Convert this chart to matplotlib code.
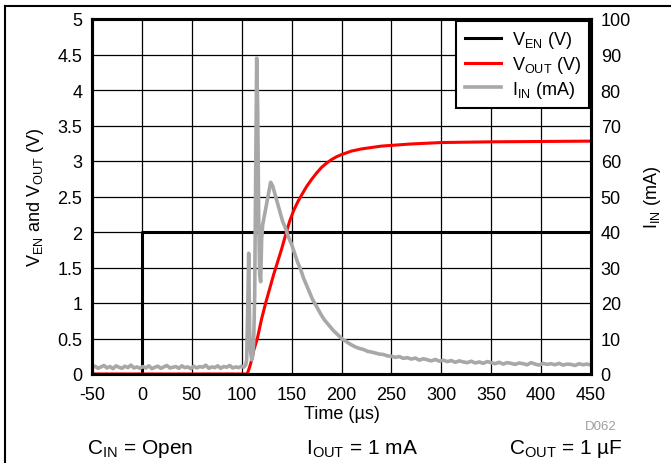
import matplotlib
matplotlib.use("Agg")
import matplotlib.pyplot as plt
from matplotlib.lines import Line2D

plt.rcParams['font.family'] = ['Liberation Sans', 'DejaVu Sans']
plt.rcParams['mathtext.fontset'] = 'custom'
plt.rcParams['mathtext.rm'] = 'Liberation Sans'
plt.rcParams['axes.unicode_minus'] = False

# ---- data ----
ven_t = [-50, 0, 0, 450]
ven_v = [0, 0, 2, 2]

vout_t = [-50, 105, 106, 108, 110, 112, 114, 116, 118, 120, 124, 128, 132, 136, 140,
          144, 148, 152, 156, 160, 165, 170, 175, 180, 185, 190, 195, 200, 210,
          220, 230, 240, 250, 270, 300, 350, 400, 450]
vout_v = [0, 0, 0.02, 0.1, 0.2, 0.33, 0.42, 0.52, 0.65, 0.78, 1.0, 1.2, 1.4, 1.58, 1.76,
          1.96, 2.15, 2.3, 2.42, 2.52, 2.64, 2.74, 2.83, 2.91, 2.97, 3.02, 3.06, 3.09, 3.14,
          3.17, 3.19, 3.21, 3.22, 3.24, 3.26, 3.27, 3.275, 3.28]

iin_t = [-50, -47, -44, -41, -38, -35, -32, -29, -26, -23, -20, -17, -14, -11, -8, -5, -2,
         1, 4, 7, 10, 13, 16, 19, 22, 25, 28, 31, 34, 37, 40, 43, 46, 49, 52, 55, 58,
         61, 64, 67, 70, 73, 76, 79, 82, 85, 88, 91, 94, 97, 100, 102, 104,
         105, 106, 107, 108, 109, 110, 111, 112, 113, 114, 115, 116, 117, 118, 119,
         120, 121, 123, 125, 127, 129, 131, 133, 135, 138, 141, 144, 147, 150,
         153, 156, 159, 162, 165, 168, 171, 174, 177, 180, 183, 186, 189, 192,
         195, 198, 201, 204, 207, 210, 214, 218, 222, 226, 230, 234, 238, 242,
         246, 250, 254, 258, 262, 266, 270, 274, 278, 282, 286, 290, 294, 298,
         302, 306, 310, 314, 318, 322, 326, 330, 334, 338, 342, 346, 350, 354,
         358, 362, 366, 370, 374, 378, 382, 386, 390, 394, 398, 402, 406, 410,
         414, 418, 422, 426, 430, 434, 438, 442, 446, 450]
iin_v = [1.8, 2.2, 1.6, 2.0, 2.4, 1.7, 2.1, 1.5, 2.3, 1.9, 1.6, 2.2, 1.8, 2.5, 1.7, 2.0, 1.6,
         2.1, 1.7, 2.3, 1.5, 1.9, 2.2, 1.6, 2.0, 2.4, 1.7, 1.9, 2.1, 1.6, 2.3, 1.8, 2.0, 1.5,
         2.2, 1.7, 2.1, 1.9, 2.5, 1.6, 2.0, 1.8, 2.3, 1.6, 2.1, 1.9, 2.4, 1.7, 2.0, 1.8, 2.2,
         1.9, 2.5,
         4, 18, 34, 12, 6, 4, 5, 9, 22, 55, 89, 75, 45, 28, 26,
         38, 42, 45, 48, 51, 54, 53, 51, 49, 46, 43, 41, 38.5, 36.5,
         34, 31.5, 29.5, 27, 25, 23, 21, 19.5, 18, 16.5, 15.2, 14.2, 13.2, 12.2,
         11.4, 10.6, 9.8, 9.3, 8.7, 8.2, 7.6, 7.2, 6.9, 6.4, 6.2, 5.9, 5.6, 5.5,
         5.1, 5.0, 4.7, 4.9, 4.4, 4.6, 4.2, 4.5, 3.9, 4.3, 4.0, 3.7, 4.1, 3.6,
         3.9, 3.5, 3.8, 3.3, 3.7, 3.4, 3.2, 3.6, 3.1, 3.4, 3.0, 3.5, 3.2, 2.9,
         3.3, 2.8, 3.2, 3.0, 2.7, 3.1, 2.9, 2.6, 3.2, 2.8, 2.5, 3.0, 2.7, 2.9,
         2.6, 3.0, 2.5, 2.8, 2.7, 2.4, 2.9, 2.6, 2.8, 2.5]

xticks = [-50, 0, 50, 100, 150, 200, 250, 300, 350, 400, 450]
yticks_left = [0, 0.5, 1, 1.5, 2, 2.5, 3, 3.5, 4, 4.5, 5]
ytick_left_labels = ['0', '0.5', '1', '1.5', '2', '2.5', '3', '3.5', '4', '4.5', '5']
yticks_right = [0, 10, 20, 30, 40, 50, 60, 70, 80, 90, 100]

# ---- figure ----
fig = plt.figure(figsize=(6.71, 4.64), dpi=100)
ax = fig.add_axes([92/671, 1-375/464, (591-92)/671, (375-20)/464])
ax2 = ax.twinx()

l1, = ax.plot(ven_t, ven_v, color='black', lw=2.2, label='V$_\\mathregular{EN}$ (V)')
l2, = ax.plot(vout_t, vout_v, color='#ff0000', lw=2.2, label='V$_\\mathregular{OUT}$ (V)')
l3, = ax2.plot(iin_t, iin_v, color='#a8a8a8', lw=2.6, label='I$_\\mathregular{IN}$ (mA)')

ax.set_xlim(-50, 450)
ax.set_ylim(0, 5)
ax2.set_ylim(0, 100)
ax.set_xticks(xticks)
ax.set_yticks(yticks_left)
ax.set_yticklabels(ytick_left_labels)
ax2.set_yticks(yticks_right)
ax.grid(True, color='black', lw=0.9)
ax.set_axisbelow(True)
for a in (ax, ax2):
    for s in a.spines.values():
        s.set_linewidth(2.2)
    a.tick_params(length=0, labelsize=13, pad=7)
ax.tick_params(axis='x', pad=9)

ax.set_xlabel('Time (µs)', fontsize=13, labelpad=1)
ax.set_ylabel('V$_\\mathregular{EN}$ and V$_\\mathregular{OUT}$ (V)', fontsize=13, labelpad=8)
ax2.set_ylabel('I$_\\mathregular{IN}$ (mA)', fontsize=13, labelpad=8)

leg = ax2.legend(handles=[l1, l2, l3], loc='upper right', fontsize=13,
                 frameon=True, fancybox=False, edgecolor='black', framealpha=1,
                 handlelength=2.0, handletextpad=0.6, borderpad=0.45,
                 labelspacing=0.2, borderaxespad=0.12)
leg.get_frame().set_linewidth(1.5)

fig.text(601/671, 1-427/464, 'D062', fontsize=9.5, color='#a0a0a0', ha='center', va='center')
fig.text(140/671, 1-449/464, 'C$_\\mathregular{IN}$ = Open', fontsize=15, ha='center', va='center')
fig.text(362/671, 1-449/464, 'I$_\\mathregular{OUT}$ = 1 mA', fontsize=15, ha='center', va='center')
fig.text(566/671, 1-449/464, 'C$_\\mathregular{OUT}$ = 1 µF', fontsize=15, ha='center', va='center')

fig.add_artist(Line2D([5/671, 1], [1-7/464, 1-7/464], color='black', lw=1.5, transform=fig.transFigure))
fig.add_artist(Line2D([5/671, 5/671], [0, 1-7/464], color='black', lw=1.5, transform=fig.transFigure))

fig.savefig('out.png', dpi=100)
